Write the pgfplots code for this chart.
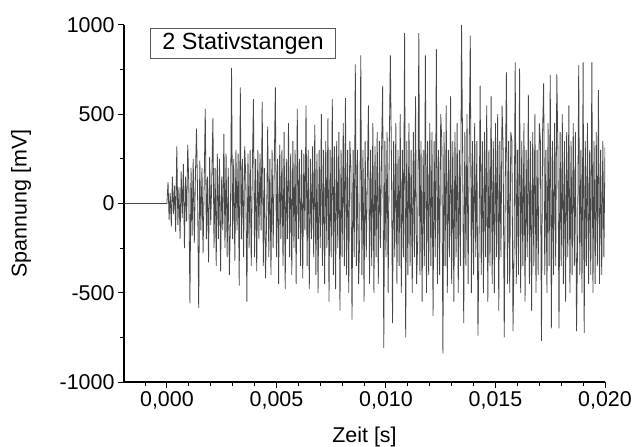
\documentclass[border=0pt]{standalone}
\usepackage{pgfplots}
\pgfplotsset{compat=1.18}
\usepackage{fontspec}
\setmainfont{Liberation Sans}
\begin{document}
\begin{tikzpicture}
\useasboundingbox (-124bp,-65bp) rectangle (509bp,382bp);
\begin{axis}[
  scale only axis, width=481bp, height=357bp,
  xmin=-1.96, xmax=20, ymin=-1000, ymax=1000,
  axis x line=bottom, axis y line=left,
  axis line style={-, line width=1.1bp, black},
  tick style={line width=1bp, black},
  tick align=outside,
  major tick length=6bp, minor tick length=4bp,
  xtick={0,5,10,15,20},
  xticklabels={{0,000},{0,005},{0,010},{0,015},{0,020}},
  minor xtick={-1,1,2,3,4,6,7,8,9,11,12,13,14,16,17,18,19},
  ytick={-1000,-500,0,500,1000},
  yticklabels={-1000,-500,0,500,1000},
  minor ytick={-750,-250,250,750},
  ticklabel style={font=\fontsize{21.5}{24}\selectfont},
  label style={font=\fontsize{21.5}{24}\selectfont},
  xlabel={Zeit [s]}, ylabel={Spannung [mV]},
  xlabel style={at={(rel axis cs:0.5,0)}, anchor=base, yshift=-60bp},
  ylabel style={at={(rel axis cs:0,0.5)}, anchor=center, yshift=103bp},
  clip=true,
]
\addplot[color=black!72, line width=0.8bp] coordinates {
(-2,0) (0,0)
(0.05,120) (0.10,-90) (0.15,60) (0.20,-130) (0.25,150) (0.30,-60) (0.35,100) (0.40,-160) (0.45,320) (0.50,-120)
(0.55,90) (0.60,-200) (0.65,180) (0.70,-80) (0.75,220) (0.80,-250) (0.85,150) (0.90,-100) (0.95,330) (1.00,100)
(1.05,-560) (1.10,200) (1.15,-180) (1.20,250) (1.25,-220) (1.30,150) (1.35,420) (1.40,50) (1.45,-585) (1.50,240)
(1.55,-150) (1.60,200) (1.65,-280) (1.70,100) (1.75,530) (1.80,-200) (1.85,150) (1.90,-330) (1.95,260) (2.00,-120)
(2.05,150) (2.10,480) (2.15,-250) (2.20,200) (2.25,-350) (2.30,280) (2.35,-200) (2.40,250) (2.45,-380) (2.50,150)
(2.55,-150) (2.60,390) (2.65,-250) (2.70,280) (2.75,-300) (2.80,200) (2.85,-400) (2.90,-100) (2.95,760) (3.00,-200)
(3.05,250) (3.10,-320) (3.15,300) (3.20,-150) (3.25,280) (3.30,-460) (3.35,650) (3.40,-200) (3.45,250) (3.50,-300)
(3.55,320) (3.60,150) (3.65,-550) (3.70,280) (3.75,-250) (3.80,300) (3.85,-350) (3.90,200) (3.95,585) (4.00,-300)
(4.05,250) (4.10,-380) (4.15,300) (4.20,-200) (4.25,280) (4.30,-150) (4.35,570) (4.40,-350) (4.45,200) (4.50,-420)
(4.55,-100) (4.60,430) (4.65,-300) (4.70,250) (4.75,-400) (4.80,300) (4.85,-250) (4.90,200) (4.95,650) (5.00,-300)
(5.05,250) (5.10,-450) (5.15,330) (5.20,-200) (5.25,300) (5.30,-350) (5.35,400) (5.40,-480) (5.45,250) (5.50,-200)
(5.55,450) (5.60,-300) (5.65,280) (5.70,-400) (5.75,350) (5.80,-250) (5.85,300) (5.90,-450) (5.95,530) (6.00,-200)
(6.05,250) (6.10,-350) (6.15,300) (6.20,-420) (6.25,280) (6.30,-150) (6.35,550) (6.40,-350) (6.45,300) (6.50,-480)
(6.55,250) (6.60,-200) (6.65,320) (6.70,-300) (6.75,440) (6.80,-400) (6.85,280) (6.90,-500) (6.95,300) (7.00,-250)
(7.05,500) (7.10,-350) (7.15,300) (7.20,-450) (7.25,350) (7.30,-250) (7.35,480) (7.40,-550) (7.45,300) (7.50,-300)
(7.55,585) (7.60,-400) (7.65,320) (7.70,-480) (7.75,350) (7.80,-250) (7.85,400) (7.90,-600) (7.95,300) (8.00,-300)
(8.05,450) (8.10,-350) (8.15,590) (8.20,-400) (8.25,300) (8.30,-500) (8.35,350) (8.40,200) (8.45,-650) (8.50,300)
(8.55,-300) (8.60,780) (8.65,-350) (8.70,300) (8.75,-450) (8.80,-200) (8.85,830) (8.90,-400) (8.95,300) (9.00,-550)
(9.05,350) (9.10,-300) (9.15,150) (9.20,550) (9.25,-450) (9.30,300) (9.35,-350) (9.40,450) (9.45,-500) (9.50,320)
(9.55,-300) (9.60,400) (9.65,-450) (9.70,350) (9.75,-250) (9.80,300) (9.85,660) (9.90,-810) (9.95,350) (10.00,-300)
(10.05,400) (10.10,-500) (10.15,300) (10.20,830) (10.25,250) (10.30,-670) (10.35,350) (10.40,-300) (10.45,450) (10.50,-450)
(10.55,300) (10.60,-350) (10.65,500) (10.70,-500) (10.75,300) (10.80,-300) (10.85,955) (10.90,-750) (10.95,350) (11.00,-400)
(11.05,450) (11.10,-350) (11.15,300) (11.20,-500) (11.25,400) (11.30,-300) (11.35,600) (11.40,-450) (11.45,-200) (11.50,955)
(11.55,-400) (11.60,350) (11.65,-550) (11.70,300) (11.75,-350) (11.80,830) (11.85,-500) (11.90,350) (11.95,-400) (12.00,450)
(12.05,-350) (12.10,400) (12.15,-630) (12.20,350) (12.25,-300) (12.30,865) (12.35,-450) (12.40,300) (12.45,-400) (12.50,500)
(12.55,350) (12.60,-840) (12.65,400) (12.70,-350) (12.75,550) (12.80,-500) (12.85,300) (12.90,-300) (12.95,600) (13.00,-450)
(13.05,350) (13.10,-550) (13.15,400) (13.20,-300) (13.25,450) (13.30,-500) (13.35,300) (13.40,-350) (13.45,1000) (13.50,300)
(13.55,-670) (13.60,400) (13.65,-350) (13.70,500) (13.75,-450) (13.80,300) (13.85,940) (13.90,-500) (13.95,350) (14.00,-400)
(14.05,450) (14.10,-300) (14.15,350) (14.20,-740) (14.25,-200) (14.30,660) (14.35,-400) (14.40,350) (14.45,-500) (14.50,400)
(14.55,-300) (14.60,550) (14.65,-550) (14.70,300) (14.75,-350) (14.80,600) (14.85,-450) (14.90,350) (14.95,-500) (15.00,450)
(15.05,-300) (15.10,500) (15.15,-600) (15.20,350) (15.25,-300) (15.30,550) (15.35,300) (15.40,-750) (15.45,150) (15.50,735)
(15.55,-450) (15.60,350) (15.65,-500) (15.70,400) (15.75,350) (15.80,-715) (15.85,-250) (15.90,790) (15.95,-450) (16.00,300)
(16.05,-400) (16.10,755) (16.15,-500) (16.20,350) (16.25,-350) (16.30,450) (16.35,-550) (16.40,300) (16.45,-300) (16.50,610)
(16.55,-450) (16.60,350) (16.65,-600) (16.70,400) (16.75,-350) (16.80,500) (16.85,-500) (16.90,300) (16.95,-400) (17.00,450)
(17.05,350) (17.10,-770) (17.15,400) (17.20,675) (17.25,-400) (17.30,300) (17.35,-500) (17.40,450) (17.45,-350) (17.50,720)
(17.55,-700) (17.60,350) (17.65,-400) (17.70,450) (17.75,-350) (17.80,725) (17.85,300) (17.90,-700) (17.95,400) (18.00,-350)
(18.05,500) (18.10,-450) (18.15,350) (18.20,-550) (18.25,400) (18.30,-300) (18.35,550) (18.40,-500) (18.45,350) (18.50,-400)
(18.55,450) (18.60,-350) (18.65,400) (18.70,-715) (18.75,-200) (18.80,775) (18.85,-400) (18.90,300) (18.95,-500) (19.00,790)
(19.05,-725) (19.10,350) (19.15,-350) (19.20,450) (19.25,-450) (19.30,300) (19.35,-400) (19.40,790) (19.45,-500) (19.50,350)
(19.55,-450) (19.60,400) (19.65,-350) (19.70,635) (19.75,-450) (19.80,300) (19.85,-400) (19.90,350) (19.95,-300) (20.00,315)
};
\node[draw=black!65, line width=0.8bp, anchor=north west, inner xsep=12bp, inner ysep=4.5bp,
      font=\fontsize{23.5}{26}\selectfont, text depth=5bp, text height=16.5bp]
  at ([xshift=26bp,yshift=-3bp]rel axis cs:0,1) {2 Stativstangen};
\end{axis}
\end{tikzpicture}
\end{document}
